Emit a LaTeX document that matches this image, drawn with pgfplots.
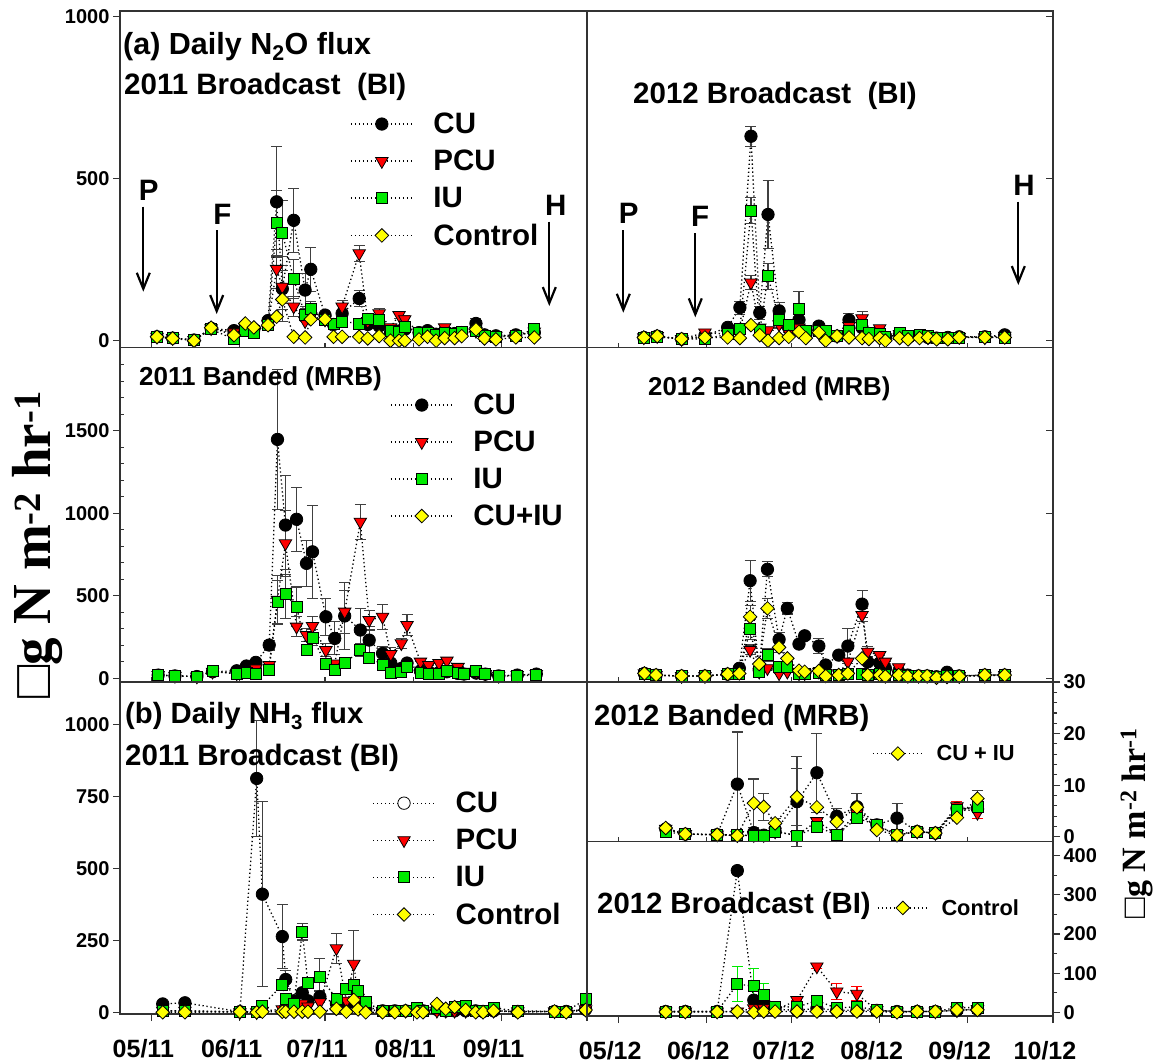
\documentclass[border=0pt]{standalone}
\usepackage{fontspec}
\setmainfont{Liberation Sans}
\newfontfamily\serifbold{Liberation Serif}
\usepackage{pgfplots}
\pgfplotsset{compat=1.18}
\usepackage{pgfplotstable}
\usetikzlibrary{arrows.meta}

\definecolor{iugreen}{RGB}{0,235,0}
\definecolor{pcured}{RGB}{255,0,0}
\definecolor{ctlyellow}{RGB}{255,255,0}

\newcommand\fs[1]{\fontsize{#1}{#1}\selectfont\bfseries}

% series styles (plain TikZ styles so that legend images can use them too)
\tikzset{
  series/.style={draw=black, line width=1.3pt, dash pattern=on 1.3pt off 2.7pt},
  cu/.style={series, mark=*, mark size=6.2pt, mark options={solid, draw=black, fill=black, line width=0.8pt}},
  cuopen/.style={series, mark=*, mark size=6.2pt, mark options={solid, draw=black, fill=white, line width=0.8pt}},
  pcu/.style={series, mark=triangle*, mark size=7.2pt, mark options={solid, rotate=180, draw=black, fill=pcured, line width=0.8pt}},
  iu/.style={series, mark=square*, mark size=5.5pt, mark options={solid, draw=black, fill=iugreen, line width=0.8pt}},
  ctl/.style={series, mark=square*, mark size=4.8pt, mark options={solid, rotate=45, draw=black, fill=ctlyellow, line width=0.8pt}},
}

\pgfplotsset{
  eb/.style={/pgfplots/error bars/y dir=both, /pgfplots/error bars/y explicit,
    /pgfplots/error bars/error mark=-,
    /pgfplots/error bars/error bar style={solid, line width=1.1pt, draw=#1},
    /pgfplots/error bars/error mark options={solid, rotate=90, line width=1.1pt, draw=#1, mark size=5.5pt}},
  eb/.default={black!75},
  panel/.style={scale only axis, clip=false, xmin=-11, xmax=153,
    axis line style={line width=1.2pt, black!80},
    every tick/.style={line width=1.1pt, black!80},
    major tick length=7pt,
    tick label style={font=\fs{20}},
    /pgf/number format/assume math mode=true,
    /pgf/number format/1000 sep={},
    legend cell align=left},
  innerx/.style={xtick=\empty, xtick pos=bottom, extra x ticks={0,31,61,92,123},
    extra x tick labels={}, extra x tick style={tick align=inside, major tick length=5pt}},
  datex/.style={xtick={0,31,61,92,123,153}, xtick pos=bottom, tick align=outside,
    xticklabel style={font=\fs{25}, xshift=-8pt, yshift=-15pt}},
  lgdA/.style={legend image code/.code={\draw[mark repeat=2,mark phase=2,##1] plot coordinates {(0pt,0pt) (31pt,0pt) (62pt,0pt)};},
    legend style={at={#1}, anchor=north west, draw=none, fill=none, inner sep=0pt,
      row sep=15pt, column sep=20pt, font=\fs{29.5}, nodes={inner sep=0pt}}},
  lgdB/.style={legend image code/.code={\draw[mark repeat=2,mark phase=2,##1] plot coordinates {(0pt,0pt) (25pt,0pt) (50pt,0pt)};},
    legend style={at={#1}, anchor=north west, draw=none, fill=none, inner sep=0pt,
      column sep=13pt, font=\fs{21.8}, nodes={inner sep=0pt}}},
}

% 2011 broadcast N2O
\pgfplotstableread{
d cu ecu pcu epcu iu eiu ct ect
2 12 0 12 0 12 0 12 0
7.5 8 0 8 0 8 0 7 0
15 2 0 2 0 2 0 0 0
21 38 0 38 0 35 0 40 0
29 31 0 25 0 5 0 17 0
33 45 0 40 0 30 0 53 0
36 35 0 30 0 25 0 41 0
41 62 0 50 0 50 0 48 0
44 428 170 221 60 363 100 74 0
46 160 100 166 50 333 100 127 30
50 371 98 105 30 189 60 12 0
54 156 50 60 0 79 20 10 0
56 220 68 75 0 97 25 66 0
61 79 0 65 0 64 0 66 0
64 50 0 55 0 53 0 12 0
67 84 0 105 20 59 0 12 0
73 130 25 269 25 53 0 12 0
76 50 0 60 0 66 0 7 0
80 45 0 84 15 64 0 14 0
84 25 0 41 0 31 0 0 0
87 30 0 79 10 28 0 0 0
89 35 0 66 10 43 0 0 0
94 25 0 25 0 25 0 4 0
97 31 0 28 0 25 0 12 0
100 20 0 22 0 18 0 0 0
103 30 0 41 0 25 0 8 0
106.5 22 0 25 0 22 0 8 0
109 25 0 25 0 28 0 14 0
114 53 15 30 0 30 0 35 0
117 18 0 15 0 14 0 7 0
121 15 0 15 0 12 0 4 0
128 18 0 15 0 15 0 10 0
134.5 25 0 28 0 35 0 10 0
}\tabA

% 2012 broadcast N2O
\pgfplotstableread{
d cu ecu pcu epcu iu eiu ct ect
9 10 0 10 0 10 0 10 0
13.7 14 0 14 0 12 0 14 0
22.3 5 0 5 0 5 0 5 0
30.5 15 0 25 0 5 0 10 0
38.5 41 0 20 0 20 0 10 0
42.8 102 20 30 0 35 0 8 0
46.7 630 31 179 21 400 40 48 0
49.8 86 20 40 0 32 0 17 0
52.7 389 104 32 0 199 40 0 0
56.6 92 25 50 0 64 25 8 0
60 40 0 25 0 48 0 12 0
63.6 64 20 40 0 97 54 27 0
66 20 0 15 0 30 0 8 0
70.6 45 12 25 0 30 0 25 0
73 20 0 10 0 30 0 0 0
77 14 0 14 0 14 0 14 0
81.2 64 19 45 0 30 0 10 0
85.8 40 0 69 22 48 0 8 0
88.2 20 0 20 0 25 0 5 0
92 25 0 38 0 20 0 8 0
94 10 0 10 0 12 0 0 0
99 20 0 20 0 25 0 8 0
102 10 0 10 0 15 0 4 0
106 15 0 12 0 18 0 8 0
109 10 0 10 0 15 0 10 0
112 8 0 8 0 8 0 4 0
116 10 0 10 0 8 0 4 0
120 12 0 12 0 10 0 10 0
129 12 0 10 0 12 0 10 0
136 18 0 15 0 10 0 10 0
}\tabB

% 2011 banded N2O
\pgfplotstableread{
d cu ecu pcu epcu iu eiu
2.4 20 0 20 0 20 0
8.3 15 0 15 0 15 0
16 11 0 11 0 11 0
21.5 40 0 40 0 46 0
30 46 0 30 0 26 0
33.4 75 0 50 0 32 0
36.7 97 0 60 0 28 0
41.4 202 30 81 20 54 0
44.3 1448 425 475 150 464 130
47.1 929 300 818 200 511 150
51 964 194 313 60 434 120
54.5 697 140 262 40 171 30
56.6 767 283 317 60 248 50
61.3 373 112 171 40 87 0
64.4 242 100 89 0 54 0
67.9 378 204 404 130 91 0
73.4 293 131 949 106 171 40
76.5 232 80 353 60 127 30
81.2 151 40 373 77 83 0
84.1 93 0 147 40 35 0
87.8 60 0 212 30 40 0
89.8 93 0 323 65 72 0
94.5 45 0 101 0 32 0
97.4 40 0 81 0 28 0
101 35 0 93 0 28 0
103.8 40 0 107 0 45 0
107.7 30 0 69 0 35 0
109.8 26 0 40 0 26 0
114.1 32 0 40 0 48 0
117.3 26 0 26 0 26 0
122 15 0 15 0 15 0
128.5 20 0 20 0 15 0
135.2 26 0 26 0 20 0
}\tabC

% 2012 banded N2O
\pgfplotstableread{
d cu ecu pcu epcu iu eiu ci eci
9.2 30 0 30 0 30 0 30 0
13.3 20 0 20 0 20 0 20 0
22.3 14 0 14 0 14 0 14 0
30.5 14 0 14 0 14 0 14 0
38.5 26 0 26 0 26 0 26 0
42.6 61 0 40 0 30 0 30 0
46.4 592 125 172 30 297 60 373 70
49.6 50 0 40 0 40 0 87 0
52.5 661 46 61 0 141 40 424 60
56.6 236 40 30 0 69 0 188 30
59.5 424 34 40 0 70 0 121 0
63.6 208 0 30 0 30 0 47 0
65.6 258 0 30 0 30 0 40 0
70.6 196 46 40 0 35 0 45 0
73 81 0 20 0 20 0 14 0
77.6 141 0 30 0 20 0 20 0
80.8 196 107 101 0 30 0 30 0
85.8 450 81 384 40 30 0 121 0
87.8 100 0 161 30 20 0 20 0
92 93 0 141 0 30 0 20 0
94 60 0 101 0 20 0 12 0
98.7 40 0 67 0 20 0 20 0
101.9 20 0 20 0 15 0 12 0
105.7 15 0 15 0 15 0 14 0
108.7 15 0 15 0 15 0 14 0
112 10 0 10 0 10 0 4 0
115.7 37 0 15 0 15 0 8 0
120 15 0 15 0 15 0 12 0
129 20 0 15 0 20 0 20 0
136 20 0 20 0 20 0 20 0
}\tabD

% 2011 broadcast NH3
\pgfplotstableread{
d cu ecu pcu epcu iu eiu ct ect
4 29 0 5 0 5 0 0 0
11.8 33 8 5 0 5 0 0 0
31.1 2 0 0 0 2 0 2 0
37 812 200 0 0 2 0 0 0
39 410 321 5 0 23 0 2 0
46 263 110 10 0 95 15 2 0
47.2 114 30 10 0 48 0 2 0
50.1 40 0 20 0 30 0 2 0
53 68 0 30 0 280 29 2 0
55 40 0 20 0 101 0 2 0
59.2 54 20 35 0 124 63 2 0
65 30 0 222 52 47 0 12 0
68.5 30 0 40 0 80 0 2 0
71.1 35 0 168 115 95 0 43 0
72.6 30 0 50 0 75 0 10 0
75.3 10 0 20 0 35 0 0 0
81.2 5 0 5 0 5 0 0 0
85.5 5 0 5 0 5 0 0 0
89.3 5 0 5 0 5 0 5 0
93.3 5 0 5 0 14 0 0 0
95.4 5 0 5 0 5 0 0 0
100.3 10 0 5 0 15 0 29 0
103.4 5 0 5 0 5 0 12 0
106.5 5 0 5 0 18 0 18 0
110.4 5 0 5 0 23 0 8 0
113.9 5 0 5 0 5 0 0 0
116.5 3 0 3 0 5 0 0 0
120.2 5 0 5 0 15 0 5 0
128.7 3 0 3 0 5 0 0 0
141.6 3 0 3 0 3 0 3 0
145.7 3 0 3 0 3 0 0 0
152.5 10 0 10 0 45 0 8 0
}\tabE

% 2012 banded NH3
\pgfplotstableread{
d cu ecu pcu epcu iu eiu ci eci
16.7 1.5 0 1.5 0 0.9 0 1.7 0
23.6 0.5 0 0.5 0 0.5 0 0.5 0
34.8 0.4 0 0.4 0 0.4 0 0.4 0
41.9 10.2 10.1 0.3 0 0.3 0 0.2 0
47.7 0.8 0 0.3 0 0.2 0 6.5 4.7
51.2 0.3 0 0.3 0 0.2 0 5.8 2.6
55.2 1 0 1 0 1 0 2.6 1
62.9 6.8 8.7 0.3 0 0.2 0 7.7 5.6
69.9 12.4 7.7 3 0 1.9 1 5.7 0
76.9 4 1.5 0.5 0 0.4 0 2.9 0
84 5.8 2.5 4.5 0 3.6 1 5.7 0
91 2.3 0 2 0 2.3 0 1.3 0
98.1 3.6 2.8 0.5 0 0.3 0 0.3 0
105.2 1 0 1 0 1 0 1 0
111.6 0.7 0 0.7 0 0.7 0 0.7 0
119.2 5.5 0 5.9 1 5.2 0 3.7 0
126.4 5.5 0 4.6 1 5.8 0 7.4 1.5
}\tabF

% 2012 broadcast NH3
\pgfplotstableread{
d cu ecu pcu epcu iu eiu ct ect
16.7 2 0 2 0 2 0 1 0
23.6 2 0 2 0 2 0 1 0
34.8 2 0 2 0 2 0 1 0
41.9 362 10 2 0 72 45 2 0
47.7 31 0 10 0 67 45 0 0
51.2 20 0 10 0 44 30 2 0
55.2 8 0 5 0 15 0 2 0
62.9 5 0 31 0 13 0 2 0
69.9 10 0 117 5 30 5 2 0
76.9 5 0 53 20 10 0 2 0
84 5 0 47 18 15 0 2 0
91 5 0 5 0 5 0 2 0
98.1 2 0 2 0 2 0 0 0
105.2 2 0 2 0 2 0 2 0
111.6 2 0 2 0 2 0 2 0
119.2 5 0 5 0 12 0 6 0
126.4 8 0 8 0 12 0 6 0
}\tabG

\begin{document}
\begin{tikzpicture}
\path[use as bounding box] (0pt,0pt) rectangle (1166pt,-1063pt);

% ---------- (a) N2O, 2011 broadcast ----------
\begin{axis}[panel, innerx, at={(120pt,-347.5pt)}, anchor=south west,
  width=467pt, height=336.5pt, ymin=-21, ymax=1016,
  ytick={0,500,1000}, ytick pos=left, tick align=outside,
  lgdA={(0.4925,0.6975)}]
\addplot[cu, forget plot, eb] table[x=d, y=cu, y error=ecu] {\tabA};
\addplot[pcu, forget plot, eb] table[x=d, y=pcu, y error=epcu] {\tabA};
\addplot[iu, forget plot, eb] table[x=d, y=iu, y error=eiu] {\tabA};
\addplot[ctl, forget plot, eb] table[x=d, y=ct, y error=ect] {\tabA};
\addlegendimage{cu}\addlegendentry{CU}
\addlegendimage{pcu}\addlegendentry{PCU}
\addlegendimage{iu}\addlegendentry{IU}
\addlegendimage{ctl}\addlegendentry{Control}
\end{axis}

% ---------- N2O, 2012 broadcast ----------
\begin{axis}[panel, innerx, at={(587pt,-347.5pt)}, anchor=south west,
  width=466pt, height=336.5pt, ymin=-21, ymax=1016,
  ytick={0,500,1000}, yticklabels={}, ytick pos=right, tick align=inside]
\addplot[cu, forget plot, eb] table[x=d, y=cu, y error=ecu] {\tabB};
\addplot[pcu, forget plot, eb] table[x=d, y=pcu, y error=epcu] {\tabB};
\addplot[iu, forget plot, eb] table[x=d, y=iu, y error=eiu] {\tabB};
\addplot[ctl, forget plot, eb] table[x=d, y=ct, y error=ect] {\tabB};
\end{axis}

% ---------- N2O, 2011 banded ----------
\begin{axis}[panel, innerx, at={(120pt,-682pt)}, anchor=south west,
  width=467pt, height=334.5pt, ymin=-22, ymax=2005,
  ytick={0,500,1000,1500}, ytick pos=left, tick align=outside,
  extra y ticks={100,200,300,400,600,700,800,900,1100,1200,1300,1400,1600,1700,1800,1900},
  extra y tick labels={}, extra y tick style={tick align=inside, major tick length=4pt},
  lgdA={(0.578,0.8616)}]
\addplot[cu, forget plot, eb] table[x=d, y=cu, y error=ecu] {\tabC};
\addplot[pcu, forget plot, eb] table[x=d, y=pcu, y error=epcu] {\tabC};
\addplot[iu, forget plot, eb] table[x=d, y=iu, y error=eiu] {\tabC};
\addlegendimage{cu}\addlegendentry{CU}
\addlegendimage{pcu}\addlegendentry{PCU}
\addlegendimage{iu}\addlegendentry{IU}
\addlegendimage{ctl}\addlegendentry{CU+IU}
\end{axis}

% ---------- N2O, 2012 banded ----------
\begin{axis}[panel, innerx, at={(587pt,-682pt)}, anchor=south west,
  width=466pt, height=334.5pt, ymin=-22, ymax=2005,
  ytick={0,500,1000,1500}, yticklabels={}, ytick pos=right, tick align=inside]
\addplot[cu, forget plot, eb] table[x=d, y=cu, y error=ecu] {\tabD};
\addplot[pcu, forget plot, eb] table[x=d, y=pcu, y error=epcu] {\tabD};
\addplot[iu, forget plot, eb] table[x=d, y=iu, y error=eiu] {\tabD};
\addplot[ctl, forget plot, eb] table[x=d, y=ci, y error=eci] {\tabD};
\end{axis}

% ---------- (b) NH3, 2011 broadcast ----------
\begin{axis}[panel, datex, at={(120pt,-1014pt)}, anchor=south west,
  width=467pt, height=332pt, ymin=-6, ymax=1147,
  xticklabels={05/11,06/11,07/11,08/11,09/11,{}},
  ytick={0,250,500,750,1000}, ytick pos=left,
  lgdA={(0.540,0.669)}]
\addplot[cu, forget plot, eb] table[x=d, y=cu, y error=ecu] {\tabE};
\addplot[pcu, forget plot, eb] table[x=d, y=pcu, y error=epcu] {\tabE};
\addplot[iu, forget plot, eb] table[x=d, y=iu, y error=eiu] {\tabE};
\addplot[ctl, forget plot, eb] table[x=d, y=ct, y error=ect] {\tabE};
\addlegendimage{cuopen}\addlegendentry{CU}
\addlegendimage{pcu}\addlegendentry{PCU}
\addlegendimage{iu}\addlegendentry{IU}
\addlegendimage{ctl}\addlegendentry{Control}
\end{axis}

% ---------- NH3, 2012 banded (0-30) ----------
\begin{axis}[panel, innerx, at={(587pt,-841.7pt)}, anchor=south west,
  width=466pt, height=159.7pt, ymin=-0.97, ymax=30,
  ytick={0,10,20,30}, minor ytick={2,4,6,8,12,14,16,18,22,24,26,28},
  ytick pos=right, yticklabel pos=right, tick align=outside, minor tick length=4pt,
  lgdB={(0.6116,0.6055)}]
\addplot[cu, forget plot, eb] table[x=d, y=cu, y error=ecu] {\tabF};
\addplot[pcu, forget plot, eb=pcured] table[x=d, y=pcu, y error=epcu] {\tabF};
\addplot[iu, forget plot, eb] table[x=d, y=iu, y error=eiu] {\tabF};
\addplot[ctl, forget plot, eb] table[x=d, y=ci, y error=eci] {\tabF};
\addlegendimage{ctl}\addlegendentry{CU + IU}
\end{axis}

% ---------- NH3, 2012 broadcast (0-400) ----------
\begin{axis}[panel, datex, at={(587pt,-1016pt)}, anchor=south west,
  width=466pt, height=174.3pt, ymin=-9.5, ymax=435.8,
  xticklabels={05/12,06/12,07/12,08/12,09/12,10/12},
  ytick={0,100,200,300,400}, minor ytick={50,150,250,350},
  ytick pos=right, yticklabel pos=right, minor tick length=4pt,
  lgdB={(0.6223,0.671)}]
\addplot[cu, forget plot, eb] table[x=d, y=cu, y error=ecu] {\tabG};
\addplot[pcu, forget plot, eb=pcured] table[x=d, y=pcu, y error=epcu] {\tabG};
\addplot[iu, forget plot, eb=iugreen] table[x=d, y=iu, y error=eiu] {\tabG};
\addplot[ctl, forget plot, eb] table[x=d, y=ct, y error=ect] {\tabG};
\addlegendimage{ctl}\addlegendentry{Control}
\end{axis}

% ---------- panel titles ----------
\begin{scope}[every node/.style={inner sep=0pt, anchor=base west}]
\node[font=\fs{30.5}] at (123pt,-54.5pt) {(a) Daily N\textsubscript{2}O flux};
\node[font=\fs{29.5}] at (124pt,-94.5pt) {2011 Broadcast\ \ (BI)};
\node[font=\fs{29.5}] at (633pt,-103.5pt) {2012 Broadcast\ \ (BI)};
\node[font=\fs{26}] at (139pt,-385.7pt) {2011 Banded (MRB)};
\node[font=\fs{25.8}] at (648pt,-395pt) {2012 Banded (MRB)};
\node[font=\fs{29.3}] at (125pt,-723.3pt) {(b) Daily NH\textsubscript{3} flux};
\node[font=\fs{29.5}] at (125pt,-765pt) {2011 Broadcast (BI)};
\node[font=\fs{29.3}] at (594pt,-725pt) {2012 Banded (MRB)};
\node[font=\fs{29.3}] at (597pt,-913.3pt) {2012 Broadcast (BI)};
\end{scope}

% ---------- planting, fertilising and harvest markers ----------
\begin{scope}[every node/.style={inner sep=0pt, font=\fs{29.5}},
  arr/.style={line width=2.2pt, -{Straight Barb[length=16pt, width=13pt, line width=2.2pt]}}]
\node at (148.7pt,-190.3pt) {P};
\draw[arr] (143.3pt,-206.7pt) -- (143.3pt,-291.7pt);
\node at (222.3pt,-214pt) {F};
\draw[arr] (216.7pt,-230pt) -- (216.7pt,-314pt);
\node at (555.7pt,-205.7pt) {H};
\draw[arr] (549.3pt,-221.7pt) -- (549.3pt,-306pt);
\node at (628.7pt,-213.3pt) {P};
\draw[arr] (623.3pt,-230pt) -- (623.3pt,-312.7pt);
\node at (700pt,-216.7pt) {F};
\draw[arr] (695.3pt,-233.3pt) -- (695.3pt,-317.3pt);
\node at (1024pt,-185pt) {H};
\draw[arr] (1018.3pt,-201.7pt) -- (1018.3pt,-285pt);
\end{scope}

% ---------- axis titles ----------
\node[rotate=90, inner sep=0pt, font=\serifbold\fontsize{55}{55}\selectfont\bfseries]
  at (37pt,-545pt) {□g N m\textsuperscript{-2} hr\textsuperscript{-1}};
\node[rotate=90, inner sep=0pt, font=\serifbold\fontsize{34}{34}\selectfont\bfseries]
  at (1136.7pt,-823pt) {□g N m\textsuperscript{-2} hr\textsuperscript{-1}};
\end{tikzpicture}
\end{document}
